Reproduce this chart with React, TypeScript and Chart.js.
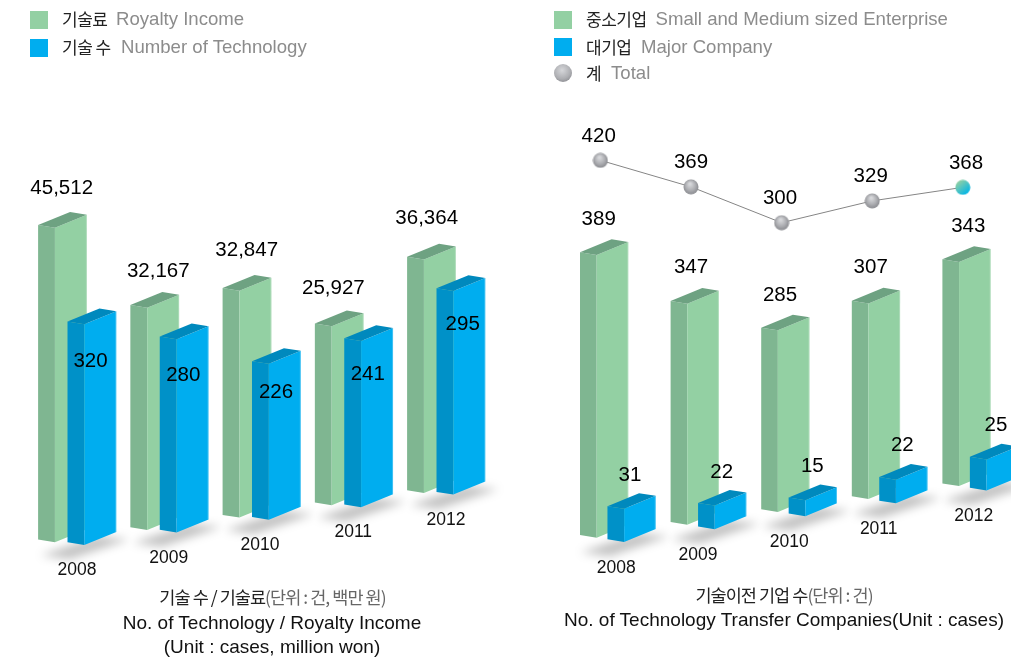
import React, { useEffect, useRef } from "react";
import { Chart, BarController, registerables } from "chart.js";

// ---------- data ----------
const years = ["2008", "2009", "2010", "2011", "2012"];

// Values as printed on the chart
const royaltyIncome = [45512, 32167, 32847, 25927, 36364];
const technologyCount = [320, 280, 226, 241, 295];
const smeCount = [389, 347, 285, 307, 343];
const majorCount = [31, 22, 15, 22, 25];
const totalCount = [420, 369, 300, 329, 368];

// Heights as actually drawn: a few marks in the reference are not to scale with their printed value
const royaltyBars = [45512, 32167, 32847, 25927, 33800];
const smeBars = [444, 347, 285, 307, 352];
const majorBars = [31, 22, 15, 22, 29];
const totalLine = [420, 369, 300, 342, 368];

// ---------- look ----------
const GREEN = { front: "#93d0a3", side: "#7fb691", top: "#6ea282" };
const BLUE = { front: "#00adef", side: "#0091c8", top: "#0089bd" };
const SANS = '"Liberation Sans", "Noto Sans CJK KR", Arial, sans-serif';
const KR = '"Noto Sans CJK KR", "Liberation Sans", sans-serif';

// Perspective of the painted boxes
const SIDE_SHARE = 0.345;
const SIDE_DROP = 2.7;
const BACK_RISE = 13;

function poly(ctx: CanvasRenderingContext2D, pts: number[][], fill: string) {
  ctx.beginPath();
  pts.forEach((p, i) => (i ? ctx.lineTo(p[0], p[1]) : ctx.moveTo(p[0], p[1])));
  ctx.closePath();
  ctx.fillStyle = fill;
  ctx.fill();
}

class Bar3DController extends BarController {
  static id = "bar3d";
  static defaults = { ...(BarController as any).defaults };
  static overrides = (BarController as any).overrides;
  draw() {
    const ctx = (this as any).chart.ctx as CanvasRenderingContext2D;
    const meta = (this as any)._cachedMeta;
    const ds = (this as any).getDataset();
    meta.data.forEach((el: any, i: number) => {
      const L = el.x + ds.xShift - el.width / 2;
      const R = L + el.width;
      const M = L + el.width * SIDE_SHARE;
      const T = el.y - ds.groundRise * i;
      const B = el.base - ds.groundRise * i;
      const c = ds.faces;
      poly(ctx, [[L, T], [M, T + SIDE_DROP], [M, B + SIDE_DROP], [L, B]], c.side);
      poly(ctx, [[M, T + SIDE_DROP], [R, T + SIDE_DROP - BACK_RISE], [R, B + SIDE_DROP - BACK_RISE], [M, B + SIDE_DROP]], c.front);
      poly(ctx, [[L, T], [M, T + SIDE_DROP], [R, T + SIDE_DROP - BACK_RISE], [L + R - M, T - BACK_RISE]], c.top);
      // thin highlight along the front's right edge
      ctx.fillStyle = "rgba(255,255,255,0.25)";
      ctx.fillRect(R - 1, T + SIDE_DROP - BACK_RISE, 1, B - T);
    });
  }
}

Chart.register(...registerables, Bar3DController as any);

const chartDecor = {
  id: "chartDecor",
  beforeDatasetsDraw(chart: any) {
    const cfg = chart.options.plugins.chartDecor;
    const ctx = chart.ctx as CanvasRenderingContext2D;
    const meta = chart.getDatasetMeta(cfg.frontIndex);
    const ds = chart.data.datasets[cfg.frontIndex];
    ctx.save();
    (ctx as any).filter = "blur(5px)";
    meta.data.forEach((el: any, i: number) => {
      const L = el.x + ds.xShift - el.width / 2;
      const B = el.base - ds.groundRise * i;
      poly(ctx, [[L - 27, B + 13], [L + 2, B + 17], [L + 62, B - 3], [L + 30, B - 6]], "rgba(0,0,0,0.24)");
    });
    ctx.restore();
  },
  afterDatasetsDraw(chart: any) {
    const cfg = chart.options.plugins.chartDecor;
    const ctx = chart.ctx as CanvasRenderingContext2D;
    ctx.save();
    ctx.textAlign = "center";
    ctx.textBaseline = "middle";
    ctx.fillStyle = "#000";
    ctx.font = `20.5px ${SANS}`;
    chart.data.datasets.forEach((ds: any, di: number) => {
      if (!ds.valueLabels) return;
      chart.getDatasetMeta(di).data.forEach((el: any, i: number) => {
        const rise = (ds.groundRise || 0) * i;
        const y = el.y - rise + ds.labelDy[i] + 1;
        ctx.fillText(ds.valueLabels[i], el.x + ds.labelDx[i], y);
      });
    });
    // year labels follow the rising ground of the front series
    ctx.font = `17.5px ${SANS}`;
    ctx.fillStyle = "#111";
    const front = chart.data.datasets[cfg.frontIndex];
    chart.getDatasetMeta(cfg.frontIndex).data.forEach((el: any, i: number) => {
      ctx.fillText(years[i], el.x + cfg.yearDx[i], el.base - front.groundRise * i + cfg.yearDy + 1);
    });
    ctx.restore();
  },
};

function sphere(stops: string[], linear: boolean) {
  const c = document.createElement("canvas");
  c.width = 16;
  c.height = 16;
  const g = c.getContext("2d")!;
  const grad = linear ? g.createLinearGradient(3, 2, 13, 14) : g.createRadialGradient(7, 5, 1, 8, 8, 9);
  stops.forEach((s, i) => grad.addColorStop(i / (stops.length - 1), s));
  g.fillStyle = grad;
  g.beginPath();
  g.arc(8, 8, 7.5, 0, Math.PI * 2);
  g.fill();
  return c;
}

const fmt = (v: number) => v.toLocaleString("en-US");

const baseOptions = (left: number, right: number, decor: any, yScales: any) => ({
  responsive: false,
  animation: false as const,
  layout: { padding: { left, right, top: 100, bottom: 115 } },
  plugins: { legend: { display: false }, tooltip: { enabled: false }, title: { display: false }, chartDecor: decor },
  scales: { x: { type: "category", display: false, offset: true, grid: { display: false } }, ...yScales },
});

const hiddenAxis = (min: number, max: number) => ({ type: "linear", display: false, min, max, grid: { display: false } });

const Txt = ({ x, y, center, style, children }: any) => (
  <div
    style={{
      position: "absolute",
      left: x,
      top: y,
      transform: center ? "translate(-50%,-50%)" : "translateY(-50%)",
      whiteSpace: "nowrap",
      fontFamily: SANS,
      fontSize: 19,
      lineHeight: 1,
      ...style,
    }}
  >
    {children}
  </div>
);

const Swatch = ({ x, y, color }: any) => (
  <div style={{ position: "absolute", left: x, top: y, width: 18, height: 18, background: color }} />
);

const krStyle = { fontFamily: KR, fontSize: 17, color: "#222", letterSpacing: -0.5 };
const enStyle = { color: "#8c8c8c", fontSize: 18.6 };
const krTitle = { fontFamily: KR, fontSize: 17.5, letterSpacing: -0.95, color: "#222" };

export default function App() {
  const leftRef = useRef<HTMLCanvasElement>(null);
  const rightRef = useRef<HTMLCanvasElement>(null);

  useEffect(() => {
    const leftChart = new Chart(leftRef.current!, {
      type: "bar3d" as any,
      data: {
        labels: years,
        datasets: [
          {
            type: "bar3d",
            label: "Number of Technology",
            data: technologyCount,
            yAxisID: "yTech",
            order: 1,
            grouped: false,
            categoryPercentage: 1,
            barPercentage: 0.529,
            clip: false,
            xShift: 14.9,
            groundRise: 12.6,
            faces: BLUE,
            backgroundColor: BLUE.front,
            valueLabels: technologyCount.map(fmt),
            labelDx: [13.5, 14, 14.5, 14, 16.7],
            labelDy: [38.5, 37.5, 30.5, 35, 35],
          },
          {
            type: "bar3d",
            label: "Royalty Income",
            data: royaltyBars,
            yAxisID: "y",
            order: 2,
            grouped: false,
            categoryPercentage: 1,
            barPercentage: 0.529,
            clip: false,
            xShift: -14.5,
            groundRise: 12.3,
            faces: GREEN,
            backgroundColor: GREEN.front,
            valueLabels: royaltyIncome.map(fmt),
            labelDx: [-15.3, -11, -14.8, -20.4, -19.3],
            labelDy: [-38, -35, -39, -36.4, -39.7],
          },
        ] as any,
      },
      options: baseOptions(
        30.875,
        27.875,
        { frontIndex: 0, yearDx: [0, -0.5, -1.5, -0.5, 0], yearDy: 27 },
        { y: hiddenAxis(-796, 63604), yTech: hiddenAxis(-3.9, 641) }
      ) as any,
      plugins: [chartDecor],
    });

    const grey = sphere(["#d6d7da", "#adaeb2", "#7d7e83"], false);
    const teal = sphere(["#93d0a3", "#00b5e8"], true);

    const rightChart = new Chart(rightRef.current!, {
      type: "bar3d" as any,
      data: {
        labels: years,
        datasets: [
          {
            type: "line",
            label: "Total",
            data: totalLine,
            yAxisID: "yTotal",
            order: 0,
            clip: false,
            tension: 0,
            borderColor: "#858585",
            borderWidth: 1,
            pointRadius: 8,
            pointStyle: [grey, grey, grey, grey, teal],
            valueLabels: totalCount.map(fmt),
            labelDx: [-1.7, 0, -1.6, -1.5, 3.2],
            labelDy: [-25.3, -25, -25.4, -26, -25],
          },
          {
            type: "bar3d",
            label: "Major Company",
            data: majorBars,
            yAxisID: "yMajor",
            order: 1,
            grouped: false,
            categoryPercentage: 1,
            barPercentage: 0.533,
            clip: false,
            xShift: 31.2,
            groundRise: 12.9,
            faces: BLUE,
            backgroundColor: BLUE.front,
            valueLabels: majorCount.map(fmt),
            labelDx: [29.6, 30.7, 30.7, 30.1, 33.2],
            labelDy: [-32, -32, -32, -32.7, -32],
          },
          {
            type: "bar3d",
            label: "Small and Medium sized Enterprise",
            data: smeBars,
            yAxisID: "y",
            order: 2,
            grouped: false,
            categoryPercentage: 1,
            barPercentage: 0.533,
            clip: false,
            xShift: 3.75,
            groundRise: 12.9,
            faces: GREEN,
            backgroundColor: GREEN.front,
            valueLabels: smeCount.map(fmt),
            labelDx: [-1.7, 0, -1.6, -1.5, 5.5],
            labelDy: [-34.3, -35, -33.7, -34.7, -34.2],
          },
        ] as any,
      },
      options: baseOptions(
        35.1,
        31.9,
        { frontIndex: 1, yearDx: [15.9, 7, 7.7, 6.5, 10.9], yearDy: 27.8 },
        {
          y: hiddenAxis(-15.7, 682.9),
          yMajor: hiddenAxis(-5.3, 410.6),
          yTotal: hiddenAxis(-319.8, 536),
        }
      ) as any,
      plugins: [chartDecor],
    });

    return () => {
      leftChart.destroy();
      rightChart.destroy();
    };
  }, []);

  return (
    <div style={{ position: "absolute", left: 0, top: 0, width: 1011, height: 660, overflow: "hidden", background: "#fff" }}>
      <canvas ref={leftRef} width={520} height={660} style={{ position: "absolute", left: 0, top: 0 }} />
      <canvas ref={rightRef} width={520} height={660} style={{ position: "absolute", left: 520, top: 0 }} />

      <Swatch x={30} y={11} color={GREEN.front} />
      <Txt x={62} y={18} style={krStyle}>기술료</Txt>
      <Txt x={116} y={19} style={enStyle}>Royalty Income</Txt>
      <Swatch x={30} y={39} color={BLUE.front} />
      <Txt x={62} y={46} style={krStyle}>기술 수</Txt>
      <Txt x={121} y={47} style={enStyle}>Number of Technology</Txt>

      <Swatch x={554} y={11} color={GREEN.front} />
      <Txt x={586} y={18} style={krStyle}>중소기업</Txt>
      <Txt x={655.5} y={19} style={enStyle}>Small and Medium sized Enterprise</Txt>
      <Swatch x={554} y={38} color={BLUE.front} />
      <Txt x={586} y={46} style={krStyle}>대기업</Txt>
      <Txt x={641} y={47} style={enStyle}>Major Company</Txt>
      <div
        style={{
          position: "absolute",
          left: 554,
          top: 64,
          width: 18,
          height: 18,
          borderRadius: "50%",
          background: "radial-gradient(circle at 45% 35%, #d6d7da, #adaeb2 55%, #77787d)",
        }}
      />
      <Txt x={586} y={72} style={krStyle}>계</Txt>
      <Txt x={611} y={73} style={enStyle}>Total</Txt>

      <Txt x={272.5} y={597} center style={krTitle}>
        기술 수 / 기술료<span style={{ color: "#666" }}>(단위 : 건, 백만 원)</span>
      </Txt>
      <Txt x={272} y={621.5} center style={{ color: "#111" }}>No. of Technology / Royalty Income</Txt>
      <Txt x={272} y={646} center style={{ color: "#111" }}>(Unit : cases, million won)</Txt>

      <Txt x={784} y={595} center style={krTitle}>
        기술이전 기업 수<span style={{ color: "#666" }}>(단위 : 건)</span>
      </Txt>
      <Txt x={784} y={619} center style={{ color: "#111" }}>No. of Technology Transfer Companies(Unit : cases)</Txt>
    </div>
  );
}
